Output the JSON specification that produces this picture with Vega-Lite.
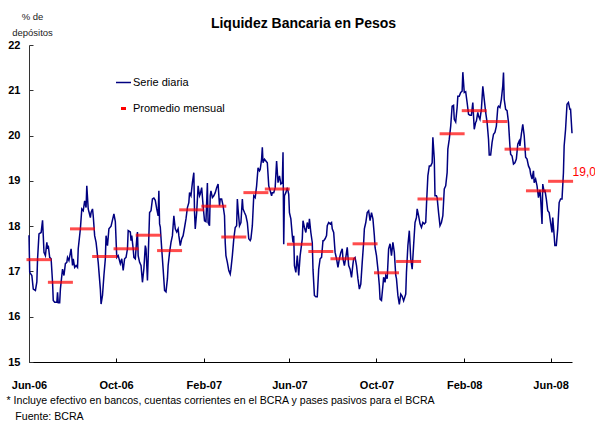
{
  "$schema": "https://vega.github.io/schema/vega-lite/v6.json",
  "width": 543,
  "height": 317,
  "autosize": "none",
  "padding": {"left": 29, "top": 45, "right": 23, "bottom": 59},
  "background": "white",
  "config": {
    "view": {"stroke": null},
    "font": "Liberation Sans",
    "locale": {"number": {"decimal": ",", "thousands": ".", "grouping": [3], "currency": ["$", ""]}}
  },
  "title": {"text": "Liquidez Bancaria en Pesos", "font": "Liberation Sans", "fontSize": 14, "fontWeight": "bold", "color": "#000", "anchor": "middle", "offset": -20, "dx": 3},
  "datasets": {
    "diaria": [
      {"fecha":"2006-06-01","valor":17.80},{"fecha":"2006-06-02","valor":16.98},{"fecha":"2006-06-05","valor":16.91},{"fecha":"2006-06-07","valor":16.61},{"fecha":"2006-06-10","valor":16.58},{"fecha":"2006-06-12","valor":16.77},{"fecha":"2006-06-13","valor":17.28},{"fecha":"2006-06-15","valor":17.83},{"fecha":"2006-06-18","valor":17.86},{"fecha":"2006-06-20","valor":18.13},{"fecha":"2006-06-21","valor":17.79},{"fecha":"2006-06-22","valor":17.42},{"fecha":"2006-06-24","valor":17.35},{"fecha":"2006-06-26","valor":17.64},{"fecha":"2006-06-27","valor":17.50},{"fecha":"2006-06-28","valor":17.57},{"fecha":"2006-06-30","valor":17.31},
      {"fecha":"2006-07-02","valor":17.28},{"fecha":"2006-07-04","valor":16.76},{"fecha":"2006-07-05","valor":16.36},{"fecha":"2006-07-07","valor":16.32},{"fecha":"2006-07-10","valor":16.32},{"fecha":"2006-07-11","valor":16.54},{"fecha":"2006-07-12","valor":16.31},{"fecha":"2006-07-14","valor":16.31},{"fecha":"2006-07-15","valor":16.61},{"fecha":"2006-07-17","valor":16.91},{"fecha":"2006-07-18","valor":17.05},{"fecha":"2006-07-20","valor":16.91},{"fecha":"2006-07-22","valor":17.17},{"fecha":"2006-07-24","valor":17.20},{"fecha":"2006-07-25","valor":17.31},{"fecha":"2006-07-27","valor":17.24},{"fecha":"2006-07-30","valor":17.50},
      {"fecha":"2006-08-01","valor":17.13},{"fecha":"2006-08-02","valor":17.28},{"fecha":"2006-08-04","valor":17.09},{"fecha":"2006-08-06","valor":17.13},{"fecha":"2006-08-08","valor":17.09},{"fecha":"2006-08-09","valor":17.50},{"fecha":"2006-08-12","valor":17.94},{"fecha":"2006-08-14","valor":18.38},{"fecha":"2006-08-16","valor":18.34},{"fecha":"2006-08-18","valor":18.56},{"fecha":"2006-08-20","valor":18.41},{"fecha":"2006-08-21","valor":18.89},{"fecha":"2006-08-23","valor":18.38},{"fecha":"2006-08-26","valor":18.19},{"fecha":"2006-08-27","valor":18.30},{"fecha":"2006-08-29","valor":18.38},{"fecha":"2006-08-30","valor":18.23},
      {"fecha":"2006-09-01","valor":17.79},{"fecha":"2006-09-03","valor":17.64},{"fecha":"2006-09-04","valor":17.50},{"fecha":"2006-09-06","valor":17.20},{"fecha":"2006-09-09","valor":16.61},{"fecha":"2006-09-10","valor":16.28},{"fecha":"2006-09-12","valor":16.47},{"fecha":"2006-09-14","valor":16.91},{"fecha":"2006-09-16","valor":17.28},{"fecha":"2006-09-17","valor":17.79},{"fecha":"2006-09-19","valor":17.57},{"fecha":"2006-09-21","valor":17.94},{"fecha":"2006-09-24","valor":18.00},{"fecha":"2006-09-28","valor":18.27},{"fecha":"2006-09-30","valor":18.10},
      {"fecha":"2006-10-02","valor":17.31},{"fecha":"2006-10-04","valor":17.35},{"fecha":"2006-10-07","valor":17.17},{"fecha":"2006-10-09","valor":17.28},{"fecha":"2006-10-11","valor":17.02},{"fecha":"2006-10-13","valor":17.28},{"fecha":"2006-10-15","valor":17.31},{"fecha":"2006-10-17","valor":17.50},{"fecha":"2006-10-18","valor":17.90},{"fecha":"2006-10-21","valor":17.87},{"fecha":"2006-10-22","valor":17.68},{"fecha":"2006-10-23","valor":17.79},{"fecha":"2006-10-25","valor":17.50},{"fecha":"2006-10-26","valor":17.31},{"fecha":"2006-10-28","valor":17.28},{"fecha":"2006-10-30","valor":17.72},{"fecha":"2006-10-31","valor":17.87},
      {"fecha":"2006-11-01","valor":17.35},{"fecha":"2006-11-03","valor":17.20},{"fecha":"2006-11-05","valor":17.13},{"fecha":"2006-11-07","valor":16.76},{"fecha":"2006-11-09","valor":17.06},{"fecha":"2006-11-11","valor":17.57},{"fecha":"2006-11-12","valor":17.50},{"fecha":"2006-11-14","valor":16.80},{"fecha":"2006-11-15","valor":17.28},{"fecha":"2006-11-17","valor":18.30},{"fecha":"2006-11-19","valor":18.34},{"fecha":"2006-11-21","valor":18.60},{"fecha":"2006-11-23","valor":18.62},{"fecha":"2006-11-25","valor":18.57},{"fecha":"2006-11-27","valor":18.38},{"fecha":"2006-11-29","valor":18.23},{"fecha":"2006-11-30","valor":18.78},
      {"fecha":"2006-12-01","valor":18.05},{"fecha":"2006-12-02","valor":17.98},{"fecha":"2006-12-04","valor":17.50},{"fecha":"2006-12-06","valor":17.05},{"fecha":"2006-12-08","valor":16.58},{"fecha":"2006-12-10","valor":16.55},{"fecha":"2006-12-12","valor":16.84},{"fecha":"2006-12-13","valor":17.13},{"fecha":"2006-12-15","valor":17.42},{"fecha":"2006-12-17","valor":17.64},{"fecha":"2006-12-19","valor":17.79},{"fecha":"2006-12-21","valor":18.23},{"fecha":"2006-12-23","valor":17.94},{"fecha":"2006-12-25","valor":17.87},{"fecha":"2006-12-27","valor":17.94},{"fecha":"2006-12-28","valor":17.79},{"fecha":"2006-12-30","valor":17.57},
      {"fecha":"2007-01-01","valor":17.72},{"fecha":"2007-01-03","valor":17.79},{"fecha":"2007-01-05","valor":17.97},{"fecha":"2007-01-07","valor":18.16},{"fecha":"2007-01-09","valor":18.41},{"fecha":"2007-01-11","valor":18.52},{"fecha":"2007-01-12","valor":18.74},{"fecha":"2007-01-14","valor":18.67},{"fecha":"2007-01-16","valor":18.96},{"fecha":"2007-01-18","valor":19.18},{"fecha":"2007-01-19","valor":18.30},{"fecha":"2007-01-20","valor":17.94},{"fecha":"2007-01-22","valor":18.30},{"fecha":"2007-01-24","valor":18.89},{"fecha":"2007-01-26","valor":18.67},{"fecha":"2007-01-27","valor":18.71},{"fecha":"2007-01-29","valor":18.85},{"fecha":"2007-01-31","valor":18.45},
      {"fecha":"2007-02-02","valor":18.12},{"fecha":"2007-02-04","valor":18.10},{"fecha":"2007-02-06","valor":18.95},{"fecha":"2007-02-07","valor":18.08},{"fecha":"2007-02-09","valor":18.01},{"fecha":"2007-02-10","valor":18.67},{"fecha":"2007-02-11","valor":18.78},{"fecha":"2007-02-13","valor":18.63},{"fecha":"2007-02-15","valor":18.67},{"fecha":"2007-02-17","valor":18.74},{"fecha":"2007-02-19","valor":18.85},{"fecha":"2007-02-21","valor":18.93},{"fecha":"2007-02-23","valor":18.45},{"fecha":"2007-02-24","valor":18.60},{"fecha":"2007-02-26","valor":18.60},{"fecha":"2007-02-28","valor":18.45},
      {"fecha":"2007-03-02","valor":18.23},{"fecha":"2007-03-03","valor":17.64},{"fecha":"2007-03-04","valor":17.35},{"fecha":"2007-03-06","valor":17.20},{"fecha":"2007-03-08","valor":17.02},{"fecha":"2007-03-10","valor":16.94},{"fecha":"2007-03-11","valor":17.05},{"fecha":"2007-03-13","valor":17.35},{"fecha":"2007-03-15","valor":17.72},{"fecha":"2007-03-17","valor":17.97},{"fecha":"2007-03-19","valor":18.01},{"fecha":"2007-03-20","valor":18.60},{"fecha":"2007-03-21","valor":18.38},{"fecha":"2007-03-23","valor":18.01},{"fecha":"2007-03-25","valor":18.08},{"fecha":"2007-03-27","valor":18.60},{"fecha":"2007-03-28","valor":18.38},{"fecha":"2007-03-30","valor":18.30},
      {"fecha":"2007-04-01","valor":18.23},{"fecha":"2007-04-03","valor":18.08},{"fecha":"2007-04-05","valor":17.72},{"fecha":"2007-04-07","valor":17.68},{"fecha":"2007-04-08","valor":17.72},{"fecha":"2007-04-10","valor":18.01},{"fecha":"2007-04-12","valor":18.67},{"fecha":"2007-04-14","valor":18.63},{"fecha":"2007-04-16","valor":18.89},{"fecha":"2007-04-18","valor":19.29},{"fecha":"2007-04-20","valor":19.22},{"fecha":"2007-04-21","valor":19.25},{"fecha":"2007-04-23","valor":19.48},{"fecha":"2007-04-24","valor":19.74},{"fecha":"2007-04-25","valor":19.40},{"fecha":"2007-04-27","valor":19.48},{"fecha":"2007-04-29","valor":19.44},
      {"fecha":"2007-05-01","valor":19.40},{"fecha":"2007-05-03","valor":18.89},{"fecha":"2007-05-05","valor":18.78},{"fecha":"2007-05-07","valor":18.67},{"fecha":"2007-05-08","valor":18.74},{"fecha":"2007-05-10","valor":18.74},{"fecha":"2007-05-12","valor":18.85},{"fecha":"2007-05-14","valor":19.44},{"fecha":"2007-05-16","valor":18.96},{"fecha":"2007-05-18","valor":19.11},{"fecha":"2007-05-20","valor":18.93},{"fecha":"2007-05-22","valor":18.96},{"fecha":"2007-05-23","valor":19.63},{"fecha":"2007-05-24","valor":17.60},{"fecha":"2007-05-25","valor":18.67},{"fecha":"2007-05-27","valor":18.74},{"fecha":"2007-05-29","valor":18.85},{"fecha":"2007-05-31","valor":18.70},
      {"fecha":"2007-06-01","valor":18.30},{"fecha":"2007-06-03","valor":18.16},{"fecha":"2007-06-05","valor":17.79},{"fecha":"2007-06-06","valor":17.64},{"fecha":"2007-06-07","valor":17.79},{"fecha":"2007-06-08","valor":17.13},{"fecha":"2007-06-10","valor":16.98},{"fecha":"2007-06-12","valor":17.35},{"fecha":"2007-06-14","valor":16.91},{"fecha":"2007-06-16","valor":17.35},{"fecha":"2007-06-19","valor":17.72},{"fecha":"2007-06-20","valor":18.12},{"fecha":"2007-06-22","valor":17.97},{"fecha":"2007-06-24","valor":17.86},{"fecha":"2007-06-26","valor":18.08},{"fecha":"2007-06-28","valor":17.94},{"fecha":"2007-06-29","valor":18.16},
      {"fecha":"2007-07-01","valor":17.86},{"fecha":"2007-07-03","valor":17.64},{"fecha":"2007-07-04","valor":17.05},{"fecha":"2007-07-06","valor":16.47},{"fecha":"2007-07-08","valor":16.44},{"fecha":"2007-07-10","valor":16.44},{"fecha":"2007-07-12","valor":17.05},{"fecha":"2007-07-14","valor":17.28},{"fecha":"2007-07-16","valor":17.31},{"fecha":"2007-07-18","valor":17.68},{"fecha":"2007-07-19","valor":17.68},{"fecha":"2007-07-21","valor":17.72},{"fecha":"2007-07-23","valor":17.79},{"fecha":"2007-07-24","valor":18.01},{"fecha":"2007-07-26","valor":18.08},{"fecha":"2007-07-28","valor":18.05},{"fecha":"2007-07-30","valor":18.08},{"fecha":"2007-07-31","valor":17.94},
      {"fecha":"2007-08-02","valor":17.86},{"fecha":"2007-08-04","valor":17.42},{"fecha":"2007-08-06","valor":17.28},{"fecha":"2007-08-08","valor":17.09},{"fecha":"2007-08-10","valor":17.28},{"fecha":"2007-08-12","valor":17.42},{"fecha":"2007-08-14","valor":17.50},{"fecha":"2007-08-15","valor":17.28},{"fecha":"2007-08-17","valor":17.13},{"fecha":"2007-08-19","valor":17.31},{"fecha":"2007-08-21","valor":17.53},{"fecha":"2007-08-23","valor":17.13},{"fecha":"2007-08-25","valor":17.05},{"fecha":"2007-08-27","valor":16.87},{"fecha":"2007-08-29","valor":17.16},{"fecha":"2007-08-30","valor":17.28},
      {"fecha":"2007-09-01","valor":17.31},{"fecha":"2007-09-03","valor":17.13},{"fecha":"2007-09-05","valor":16.84},{"fecha":"2007-09-07","valor":16.61},{"fecha":"2007-09-09","valor":16.72},{"fecha":"2007-09-11","valor":17.20},{"fecha":"2007-09-13","valor":17.64},{"fecha":"2007-09-14","valor":17.94},{"fecha":"2007-09-16","valor":18.08},{"fecha":"2007-09-18","valor":18.30},{"fecha":"2007-09-20","valor":18.34},{"fecha":"2007-09-22","valor":18.12},{"fecha":"2007-09-24","valor":18.30},{"fecha":"2007-09-26","valor":18.16},{"fecha":"2007-09-28","valor":17.79},{"fecha":"2007-09-29","valor":17.53},
      {"fecha":"2007-10-01","valor":17.35},{"fecha":"2007-10-03","valor":17.05},{"fecha":"2007-10-05","valor":16.69},{"fecha":"2007-10-06","valor":16.39},{"fecha":"2007-10-08","valor":16.36},{"fecha":"2007-10-10","valor":16.69},{"fecha":"2007-10-11","valor":16.87},{"fecha":"2007-10-13","valor":16.76},{"fecha":"2007-10-14","valor":16.91},{"fecha":"2007-10-16","valor":16.84},{"fecha":"2007-10-18","valor":17.50},{"fecha":"2007-10-20","valor":17.61},{"fecha":"2007-10-22","valor":17.35},{"fecha":"2007-10-24","valor":17.64},{"fecha":"2007-10-26","valor":17.42},{"fecha":"2007-10-28","valor":16.91},{"fecha":"2007-10-29","valor":16.84},{"fecha":"2007-10-31","valor":16.47},
      {"fecha":"2007-11-02","valor":16.27},{"fecha":"2007-11-04","valor":16.50},{"fecha":"2007-11-06","valor":16.45},{"fecha":"2007-11-08","valor":16.35},{"fecha":"2007-11-11","valor":16.50},{"fecha":"2007-11-12","valor":16.98},{"fecha":"2007-11-14","valor":17.57},{"fecha":"2007-11-16","valor":17.90},{"fecha":"2007-11-18","valor":17.28},{"fecha":"2007-11-20","valor":17.05},{"fecha":"2007-11-22","valor":17.57},{"fecha":"2007-11-24","valor":18.08},{"fecha":"2007-11-26","valor":18.19},{"fecha":"2007-11-27","valor":18.38},{"fecha":"2007-11-29","valor":18.23},
      {"fecha":"2007-12-01","valor":18.05},{"fecha":"2007-12-03","valor":17.97},{"fecha":"2007-12-05","valor":18.08},{"fecha":"2007-12-07","valor":18.05},{"fecha":"2007-12-09","valor":18.08},{"fecha":"2007-12-10","valor":18.45},{"fecha":"2007-12-12","valor":19.11},{"fecha":"2007-12-14","valor":19.33},{"fecha":"2007-12-16","valor":19.33},{"fecha":"2007-12-18","valor":19.40},{"fecha":"2007-12-19","valor":19.96},{"fecha":"2007-12-21","valor":19.48},{"fecha":"2007-12-22","valor":18.67},{"fecha":"2007-12-24","valor":18.67},{"fecha":"2007-12-25","valor":18.63},{"fecha":"2007-12-27","valor":18.30},{"fecha":"2007-12-29","valor":18.01},{"fecha":"2007-12-31","valor":18.08},
      {"fecha":"2008-01-02","valor":18.23},{"fecha":"2008-01-04","valor":18.82},{"fecha":"2008-01-06","valor":18.89},{"fecha":"2008-01-08","valor":19.18},{"fecha":"2008-01-09","valor":19.70},{"fecha":"2008-01-11","valor":19.92},{"fecha":"2008-01-13","valor":20.21},{"fecha":"2008-01-15","valor":20.65},{"fecha":"2008-01-17","valor":20.67},{"fecha":"2008-01-18","valor":20.36},{"fecha":"2008-01-20","valor":20.30},{"fecha":"2008-01-22","valor":20.62},{"fecha":"2008-01-23","valor":20.87},{"fecha":"2008-01-25","valor":20.87},{"fecha":"2008-01-27","valor":20.95},{"fecha":"2008-01-29","valor":20.98},{"fecha":"2008-01-30","valor":21.40},
      {"fecha":"2008-02-01","valor":20.95},{"fecha":"2008-02-03","valor":20.97},{"fecha":"2008-02-05","valor":20.73},{"fecha":"2008-02-07","valor":20.47},{"fecha":"2008-02-09","valor":20.45},{"fecha":"2008-02-11","valor":20.45},{"fecha":"2008-02-13","valor":20.73},{"fecha":"2008-02-15","valor":20.14},{"fecha":"2008-02-17","valor":20.29},{"fecha":"2008-02-18","valor":20.32},{"fecha":"2008-02-20","valor":20.51},{"fecha":"2008-02-21","valor":20.43},{"fecha":"2008-02-23","valor":20.36},{"fecha":"2008-02-25","valor":20.58},{"fecha":"2008-02-27","valor":21.09},{"fecha":"2008-02-29","valor":20.80},
      {"fecha":"2008-03-02","valor":20.51},{"fecha":"2008-03-04","valor":20.29},{"fecha":"2008-03-06","valor":19.92},{"fecha":"2008-03-07","valor":19.57},{"fecha":"2008-03-09","valor":19.57},{"fecha":"2008-03-11","valor":19.85},{"fecha":"2008-03-13","valor":20.03},{"fecha":"2008-03-15","valor":20.07},{"fecha":"2008-03-17","valor":20.21},{"fecha":"2008-03-19","valor":20.62},{"fecha":"2008-03-20","valor":20.65},{"fecha":"2008-03-22","valor":20.62},{"fecha":"2008-03-24","valor":20.80},{"fecha":"2008-03-26","valor":21.10},{"fecha":"2008-03-27","valor":21.39},{"fecha":"2008-03-28","valor":20.80},{"fecha":"2008-03-30","valor":20.58},
      {"fecha":"2008-04-01","valor":20.55},{"fecha":"2008-04-03","valor":20.29},{"fecha":"2008-04-05","valor":19.77},{"fecha":"2008-04-06","valor":19.59},{"fecha":"2008-04-08","valor":19.55},{"fecha":"2008-04-10","valor":19.37},{"fecha":"2008-04-12","valor":19.40},{"fecha":"2008-04-14","valor":19.48},{"fecha":"2008-04-16","valor":19.81},{"fecha":"2008-04-18","valor":19.88},{"fecha":"2008-04-19","valor":19.77},{"fecha":"2008-04-21","valor":20.03},{"fecha":"2008-04-23","valor":20.25},{"fecha":"2008-04-25","valor":20.00},{"fecha":"2008-04-27","valor":19.52},{"fecha":"2008-04-29","valor":19.48},
      {"fecha":"2008-05-01","valor":19.33},{"fecha":"2008-05-03","valor":19.26},{"fecha":"2008-05-04","valor":19.15},{"fecha":"2008-05-06","valor":19.04},{"fecha":"2008-05-08","valor":19.22},{"fecha":"2008-05-09","valor":18.96},{"fecha":"2008-05-11","valor":19.04},{"fecha":"2008-05-13","valor":18.89},{"fecha":"2008-05-15","valor":18.63},{"fecha":"2008-05-17","valor":18.80},{"fecha":"2008-05-18","valor":18.63},{"fecha":"2008-05-20","valor":18.05},{"fecha":"2008-05-21","valor":18.93},{"fecha":"2008-05-23","valor":18.75},{"fecha":"2008-05-24","valor":18.80},{"fecha":"2008-05-26","valor":18.60},{"fecha":"2008-05-28","valor":18.34},{"fecha":"2008-05-30","valor":18.30},
      {"fecha":"2008-06-01","valor":18.08},{"fecha":"2008-06-03","valor":17.86},{"fecha":"2008-06-04","valor":18.19},{"fecha":"2008-06-06","valor":17.79},{"fecha":"2008-06-07","valor":17.57},{"fecha":"2008-06-09","valor":17.57},{"fecha":"2008-06-11","valor":17.94},{"fecha":"2008-06-13","valor":18.52},{"fecha":"2008-06-15","valor":18.60},{"fecha":"2008-06-17","valor":18.60},{"fecha":"2008-06-19","valor":19.18},{"fecha":"2008-06-20","valor":19.77},{"fecha":"2008-06-22","valor":20.14},{"fecha":"2008-06-24","valor":20.69},{"fecha":"2008-06-26","valor":20.73},{"fecha":"2008-06-28","valor":20.58},{"fecha":"2008-06-29","valor":20.58},{"fecha":"2008-07-01","valor":20.05}
    ],
    "mensual": [
      {"fecha":"2006-06-15","valor":17.26},{"fecha":"2006-07-15","valor":16.76},{"fecha":"2006-08-15","valor":17.94},{"fecha":"2006-09-15","valor":17.33},{"fecha":"2006-10-15","valor":17.50},{"fecha":"2006-11-15","valor":17.80},{"fecha":"2006-12-15","valor":17.46},
      {"fecha":"2007-01-15","valor":18.36},{"fecha":"2007-02-15","valor":18.44},{"fecha":"2007-03-15","valor":17.76},{"fecha":"2007-04-15","valor":18.74},{"fecha":"2007-05-15","valor":18.82},{"fecha":"2007-06-15","valor":17.60},{"fecha":"2007-07-15","valor":17.44},{"fecha":"2007-08-15","valor":17.28},{"fecha":"2007-09-15","valor":17.61},{"fecha":"2007-10-15","valor":16.97},{"fecha":"2007-11-15","valor":17.22},{"fecha":"2007-12-15","valor":18.60},
      {"fecha":"2008-01-15","valor":20.04},{"fecha":"2008-02-15","valor":20.55},{"fecha":"2008-03-15","valor":20.31},{"fecha":"2008-04-15","valor":19.70},{"fecha":"2008-05-15","valor":18.78},{"fecha":"2008-06-15","valor":18.99}
    ]
  },
  "encoding": {
    "x": {
      "field": "fecha", "type": "temporal",
      "scale": {"domain": [{"year": 2006, "month": 6, "date": 1}, {"year": 2008, "month": 7, "date": 1}]},
      "axis": {
        "values": [{"year": 2006, "month": 6, "date": 1}, {"year": 2006, "month": 10, "date": 1}, {"year": 2007, "month": 2, "date": 1}, {"year": 2007, "month": 6, "date": 1}, {"year": 2007, "month": 10, "date": 1}, {"year": 2008, "month": 2, "date": 1}, {"year": 2008, "month": 6, "date": 1}],
        "format": "%b-%y", "grid": false, "domainColor": "#000", "domainWidth": 1,
        "tickColor": "#000", "tickSize": -4, "labelPadding": 21,
        "labelFont": "Liberation Sans", "labelFontSize": 11, "labelFontWeight": "bold", "labelColor": "#000",
        "labelFlush": false, "labelOverlap": false,
        "title": ["* Incluye efectivo en bancos, cuentas corrientes en el BCRA y pases pasivos para el BCRA", "\u200b\u00a0\u00a0\u00a0Fuente: BCRA"],
        "titleFont": "Liberation Sans", "titleFontSize": 10.6, "titleFontWeight": "normal", "titleColor": "#000",
        "titleAnchor": "start", "titleAlign": "left", "titleBaseline": "alphabetic",
        "titleX": -23, "titleY": 41, "titleLineHeight": 16
      }
    },
    "y": {
      "field": "valor", "type": "quantitative",
      "scale": {"domain": [15, 22], "nice": false, "zero": false},
      "axis": {
        "values": [15, 16, 17, 18, 19, 20, 21, 22],
        "grid": false, "domainColor": "#333", "domainWidth": 1,
        "tickColor": "#333", "tickSize": -4, "labelPadding": 13,
        "labelFont": "Liberation Sans", "labelFontSize": 11, "labelFontWeight": "bold", "labelColor": "#000",
        "title": ["% de", "depósitos"],
        "titleFont": "Liberation Sans", "titleFontSize": 9.5, "titleFontWeight": "normal", "titleColor": "#222",
        "titleAngle": 0, "titleAlign": "center", "titleBaseline": "alphabetic",
        "titleX": 3, "titleY": -26, "titleLineHeight": 16
      }
    }
  },
  "layer": [
    {
      "data": {"name": "diaria"},
      "mark": {"type": "line", "strokeWidth": 1.5, "interpolate": "linear"},
      "encoding": {
        "color": {
          "datum": "Serie diaria",
          "scale": {"domain": ["Serie diaria", "Promedio mensual"], "range": ["#000080", "#FF0000"]},
          "legend": {
            "orient": "none", "legendX": 89, "legendY": 32, "title": null,
            "symbolType": "stroke", "symbolSize": 225, "symbolStrokeWidth": 1.5,
            "labelFont": "Liberation Sans", "labelFontSize": 11, "labelColor": "#000", "labelOffset": 4,
            "rowPadding": 14, "padding": 0,
            "encode": {"symbols": {"update": {
              "size": {"signal": "datum.value === 'Promedio mensual' ? 25 : 225"},
              "strokeWidth": {"signal": "datum.value === 'Promedio mensual' ? 3 : 1.5"}
            }}}
          }
        }
      }
    },
    {
      "data": {"name": "mensual"},
      "mark": {"type": "tick", "orient": "horizontal", "size": 25, "thickness": 3},
      "encoding": {
        "color": {"datum": "Promedio mensual"}
      }
    },
    {
      "data": {"name": "mensual"},
      "transform": [{"filter": {"timeUnit": "yearmonth", "field": "fecha", "equal": {"year": 2008, "month": 6}}}],
      "mark": {"type": "text", "align": "left", "baseline": "middle", "dx": 12, "dy": -9, "fontSize": 12, "font": "Liberation Sans", "color": "#FF0000"},
      "encoding": {
        "text": {"field": "valor", "type": "quantitative", "format": ".1f"}
      }
    }
  ]
}
